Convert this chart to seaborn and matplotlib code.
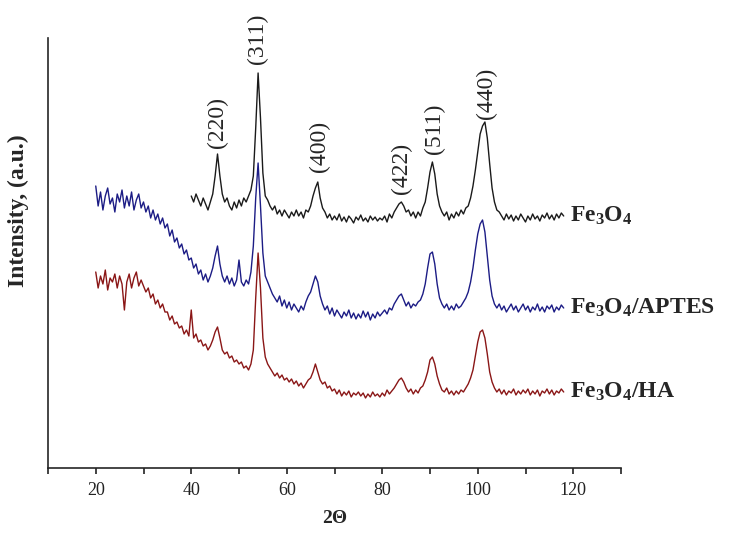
import numpy as np
import pandas as pd
import matplotlib
matplotlib.use("Agg")
import matplotlib.pyplot as plt
import seaborn as sns

sns.set_style("ticks")
plt.rcParams['font.family'] = ['Liberation Serif', 'DejaVu Serif']
plt.rcParams['mathtext.fontset'] = 'custom'
plt.rcParams['mathtext.rm'] = 'Liberation Serif:bold'
plt.rcParams['mathtext.bf'] = 'Liberation Serif:bold'
plt.rcParams['mathtext.default'] = 'bf'

# XRD patterns (0.5 deg steps, stacked offsets)
two_theta_bare = np.arange(40, 118.01, 0.5)
two_theta_coated = np.arange(20, 118.01, 0.5)

fe3o4 = [
    272, 266, 274, 268, 262, 270, 264, 258, 266, 274,
    292, 314, 292, 274, 266, 270, 262, 258, 266, 260,
    268, 262, 270, 266, 272, 278, 292, 340, 395, 350,
    295, 272, 268, 262, 258, 262, 254, 258, 252, 258,
    254, 250, 256, 252, 258, 252, 256, 250, 258, 256,
    262, 272, 280, 286, 270, 260, 256, 250, 254, 248,
    252, 248, 254, 247, 251, 246, 252, 249, 245, 251,
    248, 253, 247, 250, 246, 252, 248, 251, 247, 250,
    248, 252, 246, 254, 250, 256, 260, 264, 266, 262,
    256, 258, 252, 256, 250, 256, 252, 260, 266, 280,
    296, 306, 294, 274, 262, 256, 252, 256, 248, 254,
    250, 256, 252, 258, 254, 260, 262, 270, 282, 298,
    316, 334, 342, 346, 330, 304, 280, 266, 258, 256,
    252, 248, 254, 249, 253, 247, 252, 248, 254, 250,
    246, 252, 248, 254, 249, 252, 247, 253, 250, 255,
    249, 253, 248, 254, 250, 255, 252,
]

fe3o4_aptes = [
    282, 262, 276, 258, 272, 280, 264, 270, 256, 274,
    266, 278, 260, 272, 262, 276, 258, 268, 274, 260,
    266, 256, 262, 250, 258, 248, 254, 244, 250, 240,
    244, 232, 238, 226, 230, 220, 224, 214, 218, 208,
    210, 200, 204, 194, 198, 188, 194, 186, 192, 200,
    212, 222, 204, 192, 186, 192, 184, 190, 182, 188,
    208, 186, 182, 188, 184, 196, 222, 270, 305, 262,
    215, 192, 186, 180, 174, 170, 166, 172, 162, 168,
    160, 166, 158, 164, 160, 156, 162, 158, 166, 172,
    176, 184, 192, 186, 172, 164, 158, 162, 154, 160,
    152, 158, 154, 150, 156, 152, 158, 150, 155, 149,
    154, 150, 157, 151, 156, 148, 154, 150, 156, 152,
    155, 158, 154, 160, 158, 164, 168, 172, 174, 168,
    162, 166, 160, 164, 162, 166, 168, 174, 184, 200,
    214, 216, 204, 184, 170, 164, 160, 164, 158, 162,
    158, 164, 160, 162, 166, 170, 176, 186, 200, 218,
    234, 244, 248, 236, 212, 188, 172, 164, 160, 164,
    158, 162, 156, 160, 164, 158, 162, 156, 160, 164,
    158, 162, 156, 161, 158, 164, 157, 161, 156, 162,
    159, 163, 156, 161, 158, 163, 160,
]

fe3o4_ha = [
    196, 180, 192, 184, 198, 178, 190, 186, 194, 180,
    192, 184, 158, 186, 194, 180, 190, 196, 182, 188,
    182, 176, 180, 170, 174, 164, 168, 160, 164, 156,
    156, 148, 152, 144, 146, 140, 142, 134, 138, 132,
    158, 130, 134, 126, 128, 122, 124, 118, 122, 128,
    136, 141, 130, 118, 114, 116, 110, 112, 106, 108,
    104, 106, 100, 102, 98, 104, 118, 170, 215, 180,
    130, 111, 104, 100, 96, 92, 95, 90, 93, 88,
    90, 86, 89, 84, 87, 82, 85, 80, 84, 88,
    90, 96, 104, 96, 88, 84, 86, 80, 82, 77,
    79, 74, 78, 72, 76, 73, 77, 71, 75, 73,
    76, 72, 75, 70, 74, 71, 76, 72, 74, 71,
    75, 72, 78, 74, 77, 80, 84, 88, 90, 86,
    80, 76, 79, 74, 78, 75, 80, 82, 88, 96,
    108, 111, 104, 92, 84, 78, 76, 80, 74, 77,
    73, 77, 74, 78, 76, 80, 84, 90, 98, 112,
    126, 136, 138, 130, 114, 96, 86, 80, 76, 79,
    74, 78, 73, 77, 75, 79, 73, 77, 74, 78,
    75, 79, 73, 77, 74, 78, 72, 77, 75, 79,
    74, 78, 73, 77, 75, 79, 76,
]

sample_names = ["Fe$_3$O$_4$", "Fe$_3$O$_4$/APTES", "Fe$_3$O$_4$/HA"]
line_colors = ["#1a1a1a", "#1c1c85", "#8a1616"]

peak_labels = ["(220)", "(311)", "(400)", "(422)", "(511)", "(440)"]
peak_x = [45.5, 53.9, 66.9, 84.0, 90.9, 101.8]
peak_y = [345, 429, 322, 300, 339, 375]

series = [
    pd.DataFrame({"two_theta": two_theta_bare, "intensity": fe3o4}),
    pd.DataFrame({"two_theta": two_theta_coated, "intensity": fe3o4_aptes}),
    pd.DataFrame({"two_theta": two_theta_coated, "intensity": fe3o4_ha}),
]

fig = plt.figure(figsize=(7.4, 5.33), dpi=100)
ax = fig.add_axes([48 / 740, 65 / 533, 573 / 740, 430 / 533])

for df, name, color in zip(series, sample_names, line_colors):
    sns.lineplot(data=df, x="two_theta", y="intensity", color=color,
                 linewidth=1.0, ax=ax)
    end_y = df["intensity"].iloc[-6:].mean()
    ax.text(119.3, end_y, name, fontsize=17, fontweight="bold",
            va="center", ha="left", clip_on=False)

for lab, px, py in zip(peak_labels, peak_x, peak_y):
    ax.text(px, py, lab, rotation=90, fontsize=17, ha="center", va="center",
            clip_on=False)

ax.set_xlim(10, 130)
ax.set_ylim(0, 430)
ax.set_xticks(range(10, 131, 10))
ax.set_xticklabels(["" if t % 20 else str(t) for t in range(10, 131, 10)])
ax.set_yticks([])
ax.tick_params(axis="x", direction="out", length=4, width=1.2,
               labelsize=13, colors="#222222", pad=6)
for s in ["top", "right"]:
    ax.spines[s].set_visible(False)
ax.spines["left"].set_linewidth(1.2)
ax.spines["bottom"].set_linewidth(1.2)

ax.set_xlabel("2Θ", fontsize=14, fontweight="bold", labelpad=8)
ax.set_ylabel("Intensity, (a.u.)", fontsize=17, fontweight="bold")
ax.yaxis.set_label_coords(-0.033, 0.598)

fig.savefig("out.png", dpi=100)
